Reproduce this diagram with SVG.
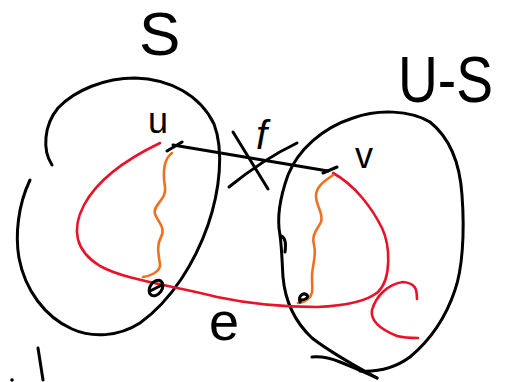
<svg xmlns="http://www.w3.org/2000/svg" width="507" height="382" viewBox="0 0 507 382">
<style>
.k{fill:none;stroke:#000;stroke-width:3;stroke-linecap:round;stroke-linejoin:round}
.r{fill:none;stroke:#e8132a;stroke-width:2.6;stroke-linecap:round;stroke-linejoin:round}
.o{fill:none;stroke:#f07020;stroke-width:2.6;stroke-linecap:round;stroke-linejoin:round}
.t{font-family:"Liberation Sans",Arial,sans-serif;fill:#000}
</style>
<rect width="507" height="382" fill="#fff"/>
<g id="set-S">
<path class="k" d="M52,165 C42,150 44,125 58,108 C75,90 105,78 135,78 C170,79 200,95 214,124 C224,150 220,190 208,225 C195,262 172,300 140,323 C118,337 92,338 72,329 C45,317 25,290 19,258 C15,235 18,205 30,180"/>
<text class="t" x="139" y="55" font-size="62">S</text>
</g>
<g id="set-US">
<path class="k" d="M377,378 C355,366 330,352 312,338 C295,322 285,300 283,277 C282,262 282,250 280,235 C277,220 279,200 288,175 C298,150 322,128 353,118 C378,109 410,110 430,122 C450,138 460,165 462,195 C465,235 462,270 455,290 C445,320 428,342 410,357 C395,368 378,372 360,371"/>
<path class="k" d="M281,236 Q287,238 285,252"/>
<path class="k" d="M312,357 C322,356 330,358 340,362 C355,368 365,372 377,378"/>
<text class="t" x="398" y="102" font-size="64" textLength="95" lengthAdjust="spacingAndGlyphs">U-S</text>
</g>
<g id="connectors">
<path class="k" d="M173,145 L328,171"/>
<path class="k" d="M233,132 L268,189 M229,187 C250,170 272,155 297,143"/>
<path class="r" d="M160,143 C135,155 100,175 84,205 C72,228 74,250 100,266 C125,280 170,285 217,297 C250,304 290,307 317,307 C340,306 365,303 378,292 C392,278 390,245 382,228 C372,208 355,185 333,173"/>
<path class="r" d="M417,299 C417,290 416,283 403,282 C388,284 376,296 372,310 C370,322 382,330 397,336 C405,338 412,338 418,338"/>
<path class="o" d="M172,153 C165,158 162,168 165,187 C167,200 152,205 155,214 C158,222 166,228 161,237 C156,246 159,256 160,265 C160,272 150,276 143,277"/>
<path class="o" d="M333,175 C325,181 316,186 316,196 C316,206 324,214 321,222 C317,230 311,235 314,245 C317,256 312,265 312,277 C312,288 314,294 308,299 C304,302 300,303 298,303"/>
</g>
<g id="node-u">
<path class="k" d="M167,151 L182,142" stroke-width="4"/>
<text class="t" x="148" y="133" font-size="36">u</text>
</g>
<g id="node-v">
<path class="k" d="M323,173 L337,167" stroke-width="4"/>
<text class="t" x="355" y="168" font-size="36">v</text>
</g>
<g id="node-a">
<ellipse class="k" cx="156" cy="288" rx="6" ry="8.5" transform="rotate(35 156 288)" stroke-width="2.6"/>
<path class="k" d="M150,291 L162,285" stroke-width="2.2"/>
</g>
<g id="node-b">
<path class="k" d="M300,302 C298,296 303,292 307,295 C309,297 306,300 301,300" stroke-width="2.6"/>
</g>
<g id="labels">
<text class="t" x="256" y="149" font-size="40" font-style="italic">f</text>
<text class="t" x="209" y="340" font-size="54">e</text>
</g>
<g id="marks">
<path class="k" d="M38,348 L43,380"/>
<circle cx="12" cy="380" r="1.8" fill="#000"/>
</g>
</svg>
